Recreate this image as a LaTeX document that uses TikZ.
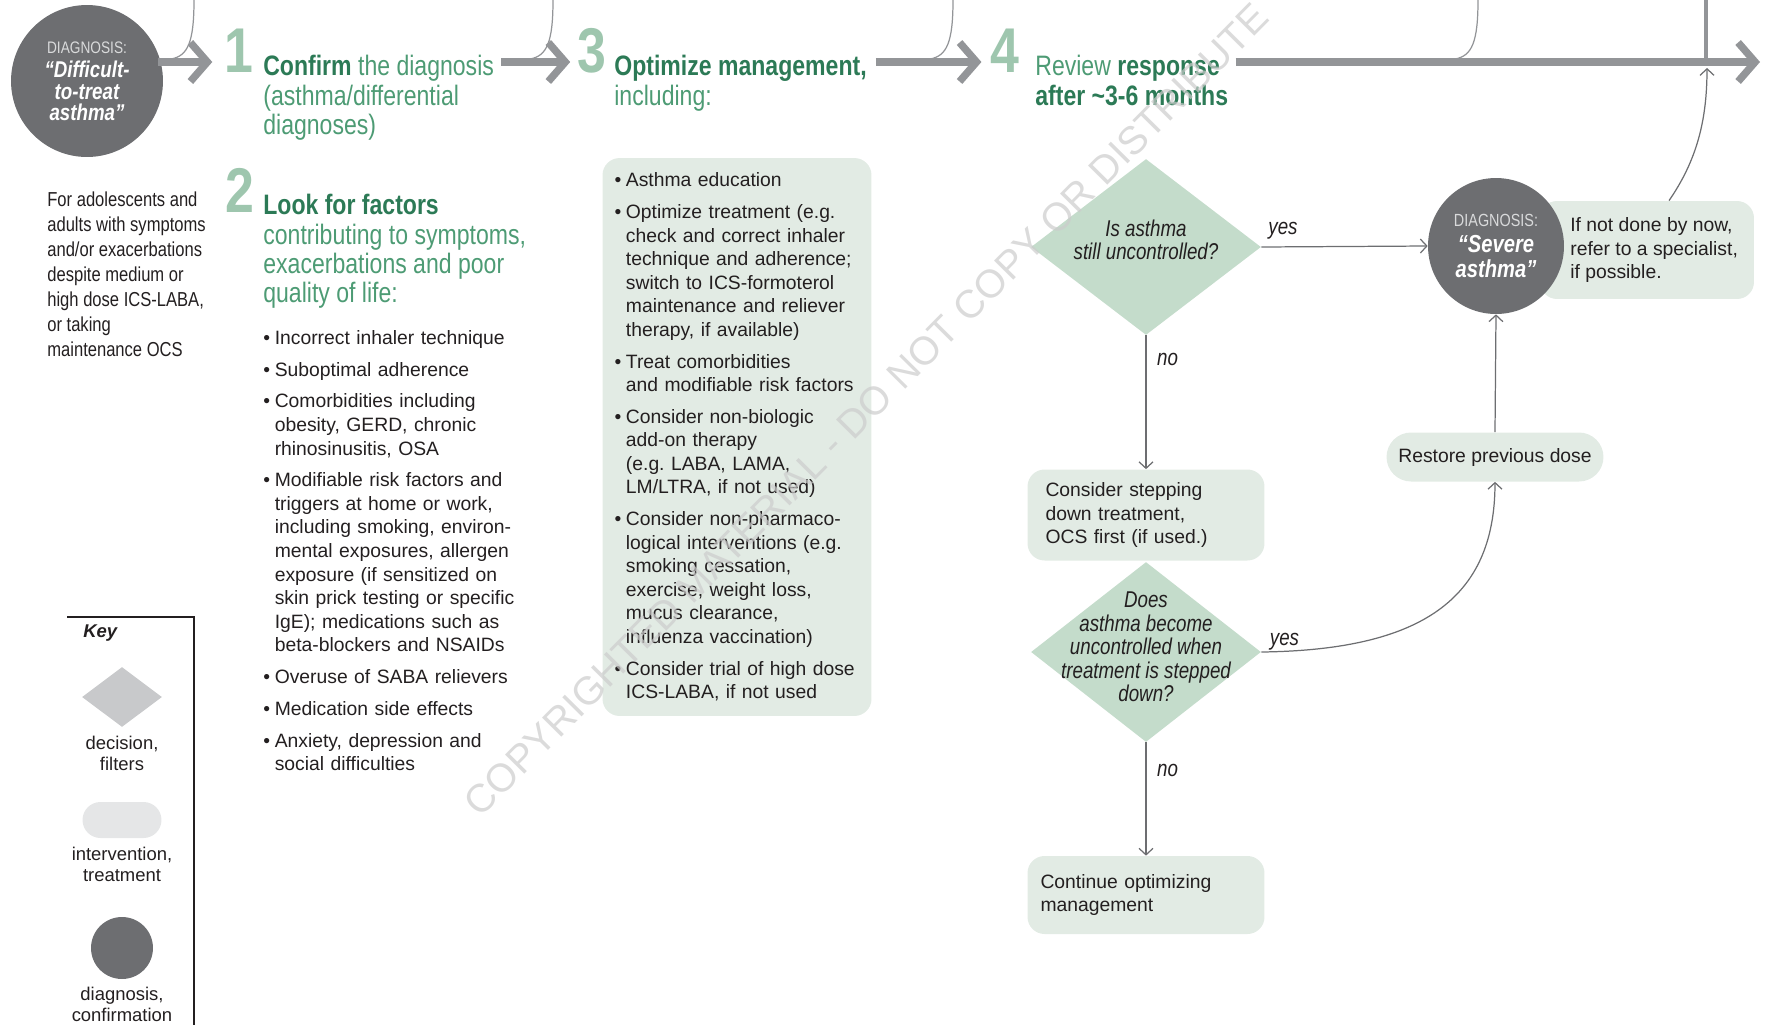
\documentclass[tikz,border=0pt]{standalone}
\usepackage{fontspec}
\setmainfont{Liberation Sans}
\newfontfamily\narrowfont[FakeStretch=0.82]{Liberation Sans}
\usetikzlibrary{arrows.meta,shapes.geometric,positioning,calc}

\definecolor{darkgreen}{HTML}{2C7A56}
\definecolor{midgreen}{HTML}{4D9B74}
\definecolor{numgreen}{HTML}{9EC6AE}
\definecolor{boxfill}{HTML}{E2EBE4}
\definecolor{diafill}{HTML}{C4DCCB}
\definecolor{circfill}{HTML}{6D6E71}
\definecolor{diaglabel}{HTML}{D9DADB}
\definecolor{arrowgray}{HTML}{939598}
\definecolor{linegray}{HTML}{6D6E71}
\definecolor{keydia}{HTML}{C8C9CB}
\definecolor{keypill}{HTML}{E5E6E7}
\definecolor{textdark}{HTML}{231F20}

\newcommand{\hl}[1]{{\bfseries\color{darkgreen}#1}}
\newcommand{\bul}[1]{{\let\\\newline\hangindent=6.5pt\hangafter=1\noindent\makebox[6.5pt][l]{\textbullet}#1\par}}

\begin{document}
\begin{tikzpicture}[x=0.02cm, y=-0.02cm,
  bigarrow/.style={arrowgray, line width=4.2pt, -{Straight Barb[length=0.34cm, width=0.78cm]}},
  feed/.style={arrowgray, line width=0.7pt},
  link/.style={linegray, line width=0.7pt, -{Straight Barb[length=1.3mm, width=2.8mm]}},
  stepnum/.style={inner sep=0pt, text=numgreen, font=\narrowfont\bfseries\fontsize{36}{36}\selectfont},
  heading/.style={anchor=north west, inner sep=0pt, align=left, text=midgreen, font=\narrowfont\fontsize{16}{16.7}\selectfont},
  bullets/.style={inner sep=0pt, align=left, text=textdark, font=\fontsize{11}{13.4}\selectfont, execute at begin node={\setlength{\parskip}{4.7pt}}},
  diag/.style={circle, fill=circfill, inner sep=0pt, text=white, align=center},
  interv/.style={fill=boxfill, rounded corners=0.34cm, inner sep=0pt},
  boxtext/.style={inner sep=0pt, align=left, text=textdark, font=\fontsize{11}{13.4}\selectfont},
  decision/.style={diamond, fill=diafill, inner sep=0pt, minimum width=4.6cm},
  dectext/.style={inner sep=0pt, align=center, text=textdark, font=\narrowfont\itshape\fontsize{13}{13.4}\selectfont},
  ans/.style={inner sep=0pt, text=textdark, font=\narrowfont\itshape\fontsize{13}{13.4}\selectfont},
  keytext/.style={inner sep=0pt, align=center, text=textdark, font=\fontsize{10.5}{12}\selectfont}
]
\useasboundingbox (0,0) rectangle (1769,1025);
\coordinate (ay) at (0,62);

% feeds coming in from above
\coordinate (top1) at (194,0);
\coordinate (top2) at (553,0);
\coordinate (top3) at (953,0);
\coordinate (top4) at (1478,0);
\coordinate (top5) at (1706,0);
\coordinate (join1) at (171,59);
\coordinate (join2) at (530,59);
\coordinate (join3) at (930,59);
\coordinate (join4) at (1455,59);
\coordinate (join5) at (1706,60);
\draw[feed] (top1) .. controls (194,42) and (188,56) .. (join1);
\draw[feed] (top2) .. controls (553,42) and (547,56) .. (join2);
\draw[feed] (top3) .. controls (953,42) and (947,56) .. (join3);
\draw[feed] (top4) .. controls (1478,42) and (1472,56) .. (join4);
\draw[arrowgray, line width=1.8pt] (top5) -- (join5);

% steps along the top
\node[diag, minimum size=3.04cm, text width=2.0cm, font=\narrowfont\bfseries\itshape\fontsize{13}{12}\selectfont] (dx1) at (87,81)
  {{\fontsize{9.5}{11}\selectfont\mdseries\upshape\color{diaglabel}DIAGNOSIS:}\\[2pt]“Difficult-\\to-treat\\asthma”};
\node[stepnum] (n1) at (239,51) {1};
\node[heading] (h1) at (263,55) {\hl{Confirm} the diagnosis\\(asthma/differential\\diagnoses)};
\node[stepnum] (n2) at (240,190) {2};
\node[heading] (h2) at (263,194) {\hl{Look for factors}\\contributing to symptoms,\\exacerbations and poor\\quality of life:};
\node[stepnum] (n3) at (592,51) {3};
\node[heading] (h3) at (614,55) {\hl{Optimize management,}\\including:};
\node[stepnum] (n4) at (1005,51) {4};
\node[heading] (h4) at (1035,55) {Review \hl{response}\\\hl{after \textasciitilde3-6 months}};
\coordinate (aend) at (1760,62);

\draw[bigarrow, shorten <=-3pt, shorten >=6.8pt] (dx1.east |- ay) -- (n1.west |- ay);
\draw[bigarrow, shorten <=4pt, shorten >=4pt] (h1.east |- ay) -- (n3.west |- ay);
\draw[bigarrow, shorten <=5pt, shorten >=5pt] (h3.east |- ay) -- (n4.west |- ay);
\draw[bigarrow, shorten <=4pt] (h4.east |- ay) -- (aend);

\node[anchor=north west, inner sep=0pt, align=left, text=textdark, font=\narrowfont\fontsize{11.5}{14.2}\selectfont] (who) at (47,192)
  {For adolescents and\\adults with symptoms\\and/or exacerbations\\despite medium or\\high dose ICS-LABA,\\or taking\\maintenance OCS};

% step 2 factors
\node[bullets, anchor=north west, text width=5.2cm] (factors) at (263,330) {%
\bul{Incorrect inhaler technique}
\bul{Suboptimal adherence}
\bul{Comorbidities including\\obesity, GERD, chronic\\rhinosinusitis, OSA}
\bul{Modifiable risk factors and\\triggers at home or work,\\including smoking, environ-\\mental exposures, allergen\\exposure (if sensitized on\\skin prick testing or specific\\IgE); medications such as\\beta-blockers and NSAIDs}
\bul{Overuse of SABA relievers}
\bul{Medication side effects}
\bul{Anxiety, depression and\\social difficulties}};

% step 3 box
\node[interv, bullets, text width=4.9cm, minimum height=11.16cm, inner xsep=0.24cm] (box3) at (737,437) {%
\bul{Asthma education}
\bul{Optimize treatment (e.g.\\check and correct inhaler\\technique and adherence;\\switch to ICS-formoterol\\maintenance and reliever\\therapy, if available)}
\bul{Treat comorbidities\\and modifiable risk factors}
\bul{Consider non-biologic\\add-on therapy\\(e.g.\ LABA, LAMA,\\LM/LTRA, if not used)}
\bul{Consider non-pharmaco-\\logical interventions (e.g.\\smoking cessation,\\exercise, weight loss,\\mucus clearance,\\influenza vaccination)}
\bul{Consider trial of high dose\\ICS-LABA, if not used}};

% step 4 review
\node[decision, minimum height=3.52cm] (dec1) at (1146,247) {};
\node[dectext] (dec1t) at (1146,240) {Is asthma\\still uncontrolled?};
\node[interv, boxtext, text width=4.02cm, minimum height=1.82cm, inner xsep=0.36cm] (down) at (1146,515) {Consider stepping\\down treatment,\\OCS first (if used.)};
\node[decision, minimum height=3.6cm] (dec2) at (1146,652) {};
\node[dectext] (dec2t) at (1146,647) {Does\\asthma become\\uncontrolled when\\treatment is stepped\\down?};
\node[interv, boxtext, text width=4.22cm, minimum height=1.56cm, inner xsep=0.26cm] (cont) at (1146,895) {Continue optimizing\\management};
\node[interv, boxtext, rounded corners=0.49cm, minimum width=4.34cm, minimum height=0.98cm] (restore) at (1495,457) {Restore previous dose};
\node[interv, minimum width=4.28cm, minimum height=1.96cm] (refbox) at (1647,250) {};
\node[boxtext, anchor=west] (reftext) at (1570,250) {If not done by now,\\refer to a specialist,\\if possible.};
\node[diag, minimum size=2.72cm, text width=1.9cm, font=\narrowfont\bfseries\itshape\fontsize{14}{14}\selectfont] (sev) at (1496,246)
  {{\fontsize{10}{12}\selectfont\mdseries\upshape\color{diaglabel}DIAGNOSIS:}\\[1pt]“Severe\\asthma”};
\coordinate (refend) at (1707,68);

\draw[link] (dec1.east) -- node[ans, above=4pt, pos=0.13] {yes} (sev.west);
\draw[link] (dec1.south) -- node[ans, right=6pt, pos=0.18] {no} (down.north);
\draw[link] (dec2.south) -- node[ans, right=6pt, pos=0.25] {no} (cont.north);
\draw[link] (dec2.east) .. controls (1420,650) and (1495,600) .. node[ans, above, pos=0.05] {yes} (restore.south);
\draw[link] (restore.north) -- (sev.south);
\draw[link] ($(refbox.north)+(22,0)$) .. controls (1697,160) and (1707,120) .. (refend);

% key
\draw[textdark, line width=0.6pt] (67,617) -- (194,617) -- (194,1025);
\node[inner sep=0pt, anchor=west, text=textdark, font=\bfseries\itshape\fontsize{10.5}{12}\selectfont] (keyhead) at (83,633) {Key};
\node[diamond, fill=keydia, inner sep=0pt, minimum width=1.6cm, minimum height=1.2cm] (keydec) at (122,697) {};
\node[keytext] (keydect) at (122,753) {decision,\\filters};
\node[fill=keypill, rounded corners=0.36cm, inner sep=0pt, minimum width=1.58cm, minimum height=0.72cm] (keyint) at (122,820) {};
\node[keytext] (keyintt) at (122,864) {intervention,\\treatment};
\node[circle, fill=circfill, inner sep=0pt, minimum size=1.24cm] (keydiag) at (122,948) {};
\node[keytext] (keydiagt) at (122,1004) {diagnosis,\\confirmation};

% watermark
\node[rotate=45.3, inner sep=0pt, text=black!20, text opacity=0.7, font=\fontsize{22.5}{22.5}\selectfont] (wm) at (866,410) {COPYRIGHTED MATERIAL - DO NOT COPY OR DISTRIBUTE};
\end{tikzpicture}
\end{document}
